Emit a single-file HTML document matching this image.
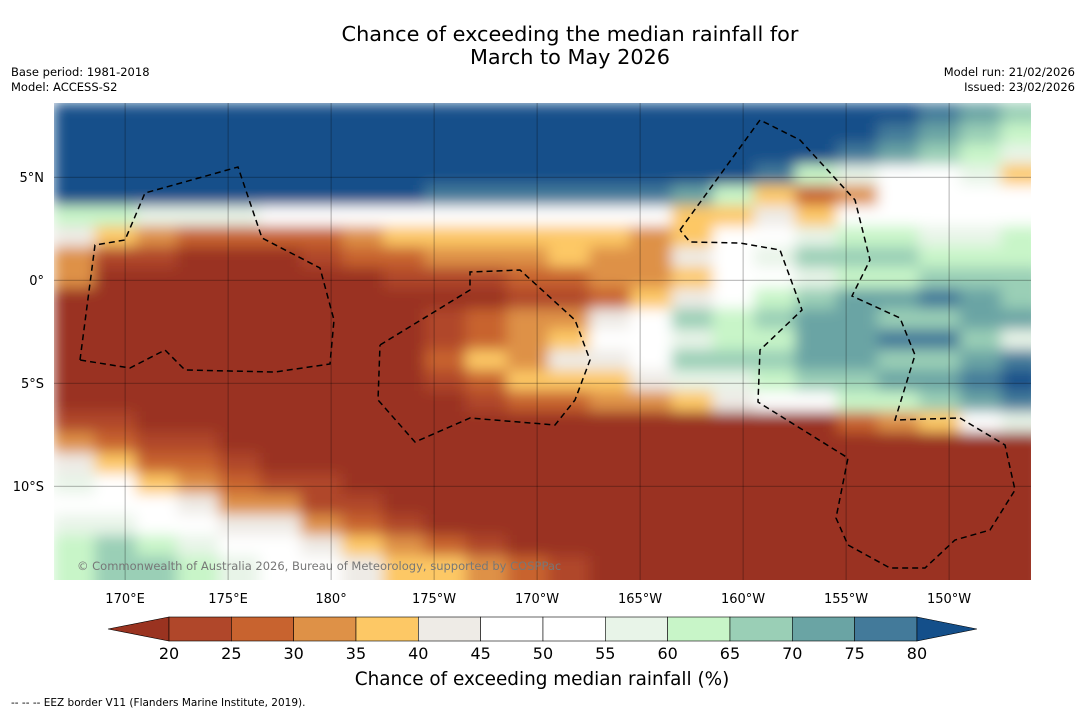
<!DOCTYPE html>
<html><head><meta charset="utf-8">
<style>
body{margin:0;background:#fff;width:1085px;height:713px;overflow:hidden;font-family:"DejaVu Sans","Liberation Sans",sans-serif;}
svg{display:block}
</style></head><body>
<svg width="1085" height="713" viewBox="0 0 1085 713">
<text x="570" y="41" text-anchor="middle" font-size="20.8">Chance of exceeding the median rainfall for</text>
<text x="570" y="64" text-anchor="middle" font-size="20.8">March to May 2026</text>
<text x="11" y="76" font-size="11.5">Base period: 1981-2018</text>
<text x="11" y="91" font-size="11.5">Model: ACCESS-S2</text>
<text x="1075" y="76" font-size="11.5" text-anchor="end">Model run: 21/02/2026</text>
<text x="1075" y="91" font-size="11.5" text-anchor="end">Issued: 23/02/2026</text>
<defs>
<clipPath id="mapclip"><rect x="54" y="103" width="977" height="477"/></clipPath>
<filter id="smooth" x="0" y="0" width="1" height="1"><feGaussianBlur stdDeviation="7" edgeMode="duplicate"/></filter>
</defs>
<g clip-path="url(#mapclip)">
<g id="cells" filter="url(#smooth)"></g>
<g id="grid"></g>
<g id="eez" fill="none" stroke="#000" stroke-width="1.5" stroke-dasharray="6,4"></g>
<text x="77" y="570" font-size="11.5" fill="#777">© Commonwealth of Australia 2026, Bureau of Meteorology, supported by COSPPac</text>
</g>
<g id="axes"></g>
<g id="cbar"></g>
<text x="542" y="685" text-anchor="middle" font-size="18.4">Chance of exceeding median rainfall (%)</text>
<text x="11" y="706" font-size="10.5">--  --  -- EEZ border V11 (Flanders Marine Institute, 2019).</text>
</svg>
<script>
const colors=["#9a3320","#b0472a","#c8632f","#de9147","#fdc865","#eeebe6","#ffffff","#ffffff","#e8f4e8","#c8f5c8","#9acfb6","#6aa4a4","#437a9a","#144f8a"];
const levelTicks=[20,25,30,35,40,45,50,55,60,65,70,75,80];
const lonTicks=[170,175,180,185,190,195,200,205,210];
const lonLabels=["170°E","175°E","180°","175°W","170°W","165°W","160°W","155°W","150°W"];
const latTicks=[5,0,-5,-10];
const latLabels=["5°N","0°","5°S","10°S"];
// grid rows (1° lat, from ~8.6N), cols (2° lon from ~166.55E); level indices 0-13 (hex)
const gridRows=[
"dddddddddddddddddddddcba",
"ddddddddddddddddddddcba9",
"dddddddddddddddddddcba98",
"dddddddddddddddddc986784",
"dddddddddccccccb94236676",
"998887776666666445466777",
"543222234444443467899889",
"311000122333433568aaa999",
"300000001112233467899aaa",
"000000000001124579abbcba",
"000000000123356a9abbaabb",
"000000000123466899bbcca8",
"000000000243557aaabbaabc",
"000000000124445889aabbcd",
"000000000012233456799abc",
"110000000000000000023468",
"321100000000000000000000",
"542210000000000000000000",
"864321100000000000000000",
"776533110000000000000000",
"887655321000000000000000",
"9a9876543210000000000000",
"9aa986654432100000000000",
"9aa986654432100000000000"];
const lon0=166.55, lat0=8.6, pxDeg=20.6, mx=54, my=103;
const xs=lon=>mx+(lon-lon0)*pxDeg, ys=lat=>my+(lat0-lat)*pxDeg;
const NS="http://www.w3.org/2000/svg";
function mk(t,a,p){const e=document.createElementNS(NS,t);for(const k in a)e.setAttribute(k,a[k]);p.appendChild(e);return e;}
const cells=document.getElementById('cells');
gridRows.forEach((row,j)=>{for(let i=0;i<24;i++){const v=parseInt(row[i]||row[row.length-1],16);
const r=mk('rect',{x:xs(lon0+2*i)-0.5,y:ys(lat0-j)-0.5,width:2*pxDeg+1,height:pxDeg+1,fill:colors[v]},cells);

}});
const grid=document.getElementById('grid'),axes=document.getElementById('axes');
lonTicks.forEach((l,i)=>{const x=xs(l);
const g=mk('line',{x1:x,x2:x,y1:103,y2:580,stroke:'#000','stroke-width':0.5,opacity:0.6},grid);

const t=mk('text',{x:x,y:603,'text-anchor':'middle','font-size':13},axes);t.textContent=lonLabels[i];
});
latTicks.forEach((l,i)=>{const y=ys(l);
const g=mk('line',{x1:54,x2:1031,y1:y,y2:y,stroke:'#000','stroke-width':0.5,opacity:0.6},grid);

const t=mk('text',{x:44,y:y+5,'text-anchor':'end','font-size':13},axes);t.textContent=latLabels[i];
});
const eez=document.getElementById('eez');
[[[80,360],[95,245],[125,240],[145,193],[238,167],[262,238],[320,268],[334,320],[330,364],[275,372],[185,370],[165,350],[130,368],[80,360]],
[[380,345],[470,290],[470,272],[520,270],[575,320],[590,360],[575,400],[555,425],[470,418],[415,442],[378,400],[380,345]],
[[680,230],[720,175],[760,120],[800,140],[855,200],[870,260],[852,296],[900,318],[915,355],[895,420],[960,418],[1005,445],[1015,490],[990,530],[955,540],[925,568],[890,568],[848,545],[836,518],[848,458],[758,402],[760,350],[802,310],[780,250],[740,243],[690,242],[680,230]]
].forEach(pts=>{const p=mk('polyline',{points:pts.map(q=>q.join(',')).join(' ')},eez);
});
const cb=document.getElementById('cbar');const cx0=169,cw=62.33,cy=617,ch=24;
const lt=mk('polygon',{points:`108,629 ${cx0},${cy} ${cx0},${cy+ch}`,fill:colors[0],stroke:'#000','stroke-width':0.6},cb);

for(let k=0;k<12;k++){const r=mk('rect',{x:cx0+k*cw,y:cy,width:cw,height:ch,fill:colors[k+1],stroke:'#000','stroke-width':0.6},cb);
}
const x1=cx0+12*cw;
const rt=mk('polygon',{points:`${x1},${cy} ${x1+60},629 ${x1},${cy+ch}`,fill:colors[13],stroke:'#000','stroke-width':0.6},cb);

levelTicks.forEach((v,k)=>{const t=mk('text',{x:cx0+k*cw,y:659,'text-anchor':'middle','font-size':16},cb);t.textContent=v;
});
</script>
</body></html>
